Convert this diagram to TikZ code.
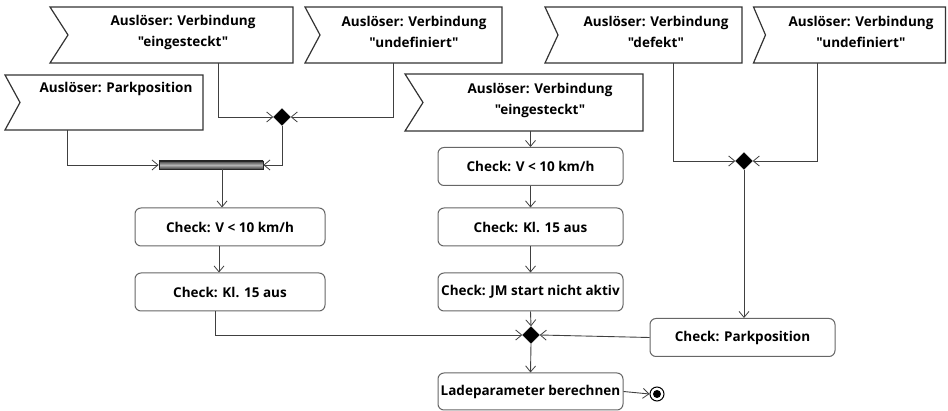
\documentclass[tikz,border=0pt]{standalone}
\usepackage{fontspec}
\setmainfont{Open Sans}[Ligatures=TeXOff]
\usetikzlibrary{shapes.geometric,arrows.meta,calc}
\newcommand\evdraw[2]{\draw[evline] (#1.north west) -- (#1.north east) -- (#1.south east) -- (#1.south west) -- ([xshift=#2]#1.west) -- cycle;}
\begin{document}
\begin{tikzpicture}[x=1pt,y=-1pt,
  font=\fontsize{13.5}{21}\selectfont\bfseries,
  evbox/.style={rectangle,draw=none,inner sep=0pt,outer sep=0pt},
  evline/.style={draw=black!80,line width=1.2pt},
  evtxt/.style={align=center,inner sep=0pt},
  act/.style={rectangle,rounded corners=6pt,draw=black!60,line width=1pt,inner sep=0pt,minimum width=185pt,minimum height=38pt},
  dia/.style={diamond,fill=black,draw=black,inner sep=0pt,minimum size=17pt},
  conn/.style={draw=black!75,line width=0.9pt},
  arr/.style={conn,-{Straight Barb[length=6pt,width=10pt,line width=0.8pt]}},
]
\useasboundingbox (0,0) rectangle (948,411);
% event boxes
\node[evbox,minimum width=243pt,minimum height=56pt] (e1) at (171.5,35) {};
\evdraw{e1}{18}
\node[evtxt] (e1t) at (183,32) {Auslöser: Verbindung\\"eingesteckt"};
\node[evbox,minimum width=197pt,minimum height=56pt] (e2) at (403.5,35) {};
\evdraw{e2}{15}
\node[evtxt] (e2t) at (414,32) {Auslöser: Verbindung\\"undefiniert"};
\node[evbox,minimum width=198pt,minimum height=55pt] (e3) at (104,102.5) {};
\evdraw{e3}{15}
\node[evtxt] (e3t) at (116,89) {Auslöser: Parkposition};
\node[evbox,minimum width=238pt,minimum height=57pt] (e4) at (524,102.5) {};
\evdraw{e4}{18}
\node[evtxt] (e4t) at (540,100) {Auslöser: Verbindung\\"eingesteckt"};
\node[evbox,minimum width=197pt,minimum height=56pt] (e5) at (643.5,35) {};
\evdraw{e5}{13}
\node[evtxt] (e5t) at (656,32) {Auslöser: Verbindung\\"defekt"};
\node[evbox,minimum width=192pt,minimum height=56pt] (e6) at (849.5,35) {};
\evdraw{e6}{12}
\node[evtxt] (e6t) at (861,32) {Auslöser: Verbindung\\"undefiniert"};
% control nodes
\node[dia] (d1) at (282,117) {};
\node[dia] (d2) at (744,161) {};
\node[dia] (d3) at (531,335) {};
\node[rectangle,draw=black!85,line width=0.8pt,minimum width=104pt,minimum height=8pt,inner sep=0pt,
  top color=black!75,bottom color=black!75,middle color=black!30] (bar) at (211,165) {};
% activities
\node[act,minimum width=190pt] (cv1) at (230,227) {Check: V < 10 km/h};
\node[act,minimum width=190pt] (kl1) at (230,292) {Check: Kl. 15 aus};
\node[act] (cv2) at (530.5,166.5) {Check: V < 10 km/h};
\node[act] (kl2) at (530.5,227) {Check: Kl. 15 aus};
\node[act] (jm) at (530.5,292) {Check: JM start nicht aktiv};
\node[act] (pp) at (742.5,337.5) {Check: Parkposition};
\node[act,minimum height=37pt] (lade) at (530.5,391.5) {Ladeparameter berechnen};
\node[circle,draw=black,line width=1pt,minimum size=14pt,inner sep=0pt,
  path picture={\fill[black] (path picture bounding box.center) circle (4pt);}] (fin) at (657,394) {};
% connectors
\draw[arr] ([xshift=46.5]e1.south) |- (d1.west);
\draw[arr] ([xshift=-10.5]e2.south) |- (d1.east);
\draw[arr] (d1.south) |- (bar.east);
\draw[arr] ([xshift=-37]e3.south) |- (bar.west);
\draw[arr] ([xshift=11]bar.south) -- ([xshift=11]bar.south |- cv1.north);
\draw[arr] ([xshift=-11]cv1.south) -- ([xshift=-11]kl1.north);
\draw[arr] ([xshift=-15]kl1.south) |- (d3.west);
\draw[arr] (e4.south -| cv2.north) -- (cv2.north);
\draw[arr] (cv2) -- (kl2);
\draw[arr] (kl2) -- (jm);
\draw[arr] (jm.south) -- (d3.north);
\draw[arr] (d3.south) -- (lade.north);
\draw[arr] ([xshift=29.5]e5.south) |- (d2.west);
\draw[arr] ([xshift=-32.5]e6.south) |- (d2.east);
\draw[arr] (d2.south) -- (d2.south |- pp.north);
\draw[arr] (pp.west) -- (d3.east);
\draw[arr] (lade.east) -- (fin.west);
\end{tikzpicture}
\end{document}
